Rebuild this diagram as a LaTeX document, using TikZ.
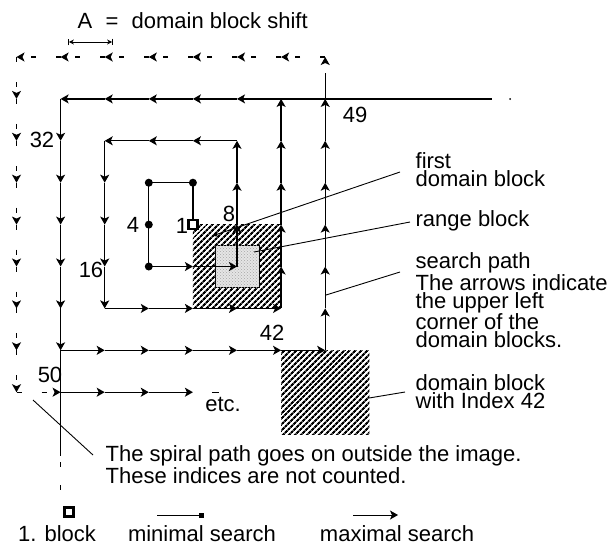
\documentclass[tikz,border=0pt]{standalone}
\usepackage{fontspec}
\setmainfont{Liberation Sans}
\usetikzlibrary{calc, positioning}
\usetikzlibrary{arrows.meta}
\usetikzlibrary{patterns, patterns.meta}

\tikzset{
  txt/.style={font=\fontsize{22}{18}\selectfont, inner sep=0pt},
  lbl/.style={txt, anchor=north west, align=left},
  patharrow/.style={-{Stealth[length=8pt, width=9pt, inset=2pt]}},
  outpath/.style={patharrow, dash pattern=on 5pt off 20pt},
  hatch/.style={pattern={Lines[angle=45, distance=4pt, line width=2.3pt]}},
  mindot/.style={circle, fill, inner sep=0pt, minimum size=8pt},
  blocksq/.style={draw, line width=2.5pt, fill=white, inner sep=0pt, minimum size=9pt},
  leader/.style={line width=0.9pt},
}

\begin{document}
\begin{tikzpicture}[x=1pt, y=-1pt, line width=1.3pt]
\useasboundingbox (0,0) rectangle (609,547);

% search grid, one step = A
\begin{scope}[shift={(16.5,57)}, x=44.1pt, y=-41.9pt]
  \foreach \i/\c/\r in {1/4/4, 2/4/3, 3/3/3, 4/3/4, 5/3/5, 6/4/5, 7/5/5, 8/5/4,
      9/5/3, 10/5/2, 11/4/2, 12/3/2, 13/2/2, 14/2/3, 15/2/4, 16/2/5, 17/2/6,
      18/3/6, 19/4/6, 20/5/6, 21/6/6, 22/6/5, 23/6/4, 24/6/3, 25/6/2, 26/6/1,
      27/5/1, 28/4/1, 29/3/1, 30/2/1, 31/1/1, 32/1/2, 33/1/3, 34/1/4, 35/1/5,
      36/1/6, 37/1/7, 38/2/7, 39/3/7, 40/4/7, 41/5/7, 42/6/7, 43/7/7, 44/7/6,
      45/7/5, 46/7/4, 47/7/3, 48/7/2, 49/7/1, 50/1/8, 51/2/8, 52/3/8, 53/4/8}
    \coordinate (p\i) at (\c,\r);
  % outside the image, not counted
  \foreach \i/\c/\r in {1/7/0, 2/6/0, 3/5/0, 4/4/0, 5/3/0, 6/2/0, 7/1/0, 8/0/0,
      9/0/1, 10/0/2, 11/0/3, 12/0/4, 13/0/5, 14/0/6, 15/0/7, 16/0/8}
    \coordinate (o\i) at (\c,\r);

  \fill[hatch] (4,4) rectangle (6,6);
  \fill[hatch] (6,7) rectangle (8,9);
  \filldraw[fill=gray!20, line width=0.6pt] (4.5,4.5) rectangle (5.5,5.5);
  \fill[pattern=crosshatch dots, pattern color=gray!70] (4.5,4.5) rectangle (5.5,5.5);
\end{scope}

% image border
\draw (p26) -- ++(211,0);
\fill (510,99) circle (1pt);
\draw (p37) -- ++(0,106);
\draw[dash pattern=on 5pt off 18pt] (60.6,462) -- ++(0,28);

% minimal search
\draw (p1) -- (p2) -- (p3) -- (p4) -- (p5);
\foreach \i in {2,...,5}
  \node[mindot] (d\i) at (p\i) {};

% maximal search
\foreach \i [remember=\i as \j (initially 5)] in {6,...,49}
  \draw[patharrow] (p\j) -- (p\i);
\draw[outpath, dash pattern=on 26pt off 30pt] (p49) -- (o1);
\foreach \i [remember=\i as \j (initially 1)] in {2,...,16}
  \draw[outpath] (o\j) -- (o\i);
\draw[outpath] (o16) -- (p50);
\foreach \i [remember=\i as \j (initially 50)] in {51,52,53}
  \draw[patharrow] (p\j) -- (p\i);
\draw ($(p53)+(19,0)$) -- ++(7,0);

\node[blocksq] (first) at (p1) {};

% block shift
\node[txt, anchor=base west] (symA) at (77,28) {A};
\node[txt, anchor=base] (eq) at (112,28) {=};
\node[txt, anchor=base west] (shift) at (131,28) {domain block shift};
\draw[|<->|, >={Stealth[length=5pt, width=5pt]}, line width=0.9pt] (68,42) -- (113,42);

% indices
\node[txt] (n1) at (182,226) {1};
\node[txt] (n4) at (133,225) {4};
\node[txt] (n8) at (229,214) {8};
\node[txt] (n16) at (91,270) {16};
\node[txt] (n32) at (42,140) {32};
\node[txt] (n42) at (272,333) {42};
\node[txt] (n49) at (355,115) {49};
\node[txt] (n50) at (50,375) {50};
\node[txt] (etc) at (223,404) {etc.};

% labels
\node[lbl] (lfirst) at (415,152) {first\\domain block};
\node[txt, anchor=base west] (lrange) at (415,226) {range block};
\node[lbl] (lsearch) at (415,252) {search path\\The arrows indicate\\the upper left\\corner of the\\domain blocks.};
\node[lbl] (l42) at (415,374) {domain block\\with Index 42};
\node[lbl] (lout) at (105,445) {The spiral path goes on outside the image.\\These indices are not counted.};

\coordinate (cfirst) at (212,236);
\coordinate (crange) at (254,252);
\coordinate (csearch) at (326,295);
\coordinate (c42) at (369,398);
\coordinate (cout) at (33,400);

\draw[leader, -{Stealth[length=6pt, width=5pt]}] ([shift={(-15,20)}]lfirst.north west) -- (cfirst);
\draw[leader] ([shift={(-5,-4)}]lrange.base west) -- (crange);
\draw[leader] ([shift={(-15,20)}]lsearch.north west) -- (csearch);
\draw[leader] ([shift={(-10,18)}]l42.north west) -- (c42);
\draw[leader] ([shift={(-12,10)}]lout.north west) -- (cout);

% legend
\node[blocksq] (sq) at (69,512) {};
\node[txt, anchor=base] (lblock) at (57,541) {1. block};
\draw[leader, -{Square[length=5pt, width=5pt]}] (157,515) -- (204,515);
\node[txt, anchor=base] (lmin) at (202,541) {minimal search};
\draw[leader, patharrow] (353,515) -- (398,515);
\node[txt, anchor=base] (lmax) at (397,541) {maximal search};
\end{tikzpicture}
\end{document}
